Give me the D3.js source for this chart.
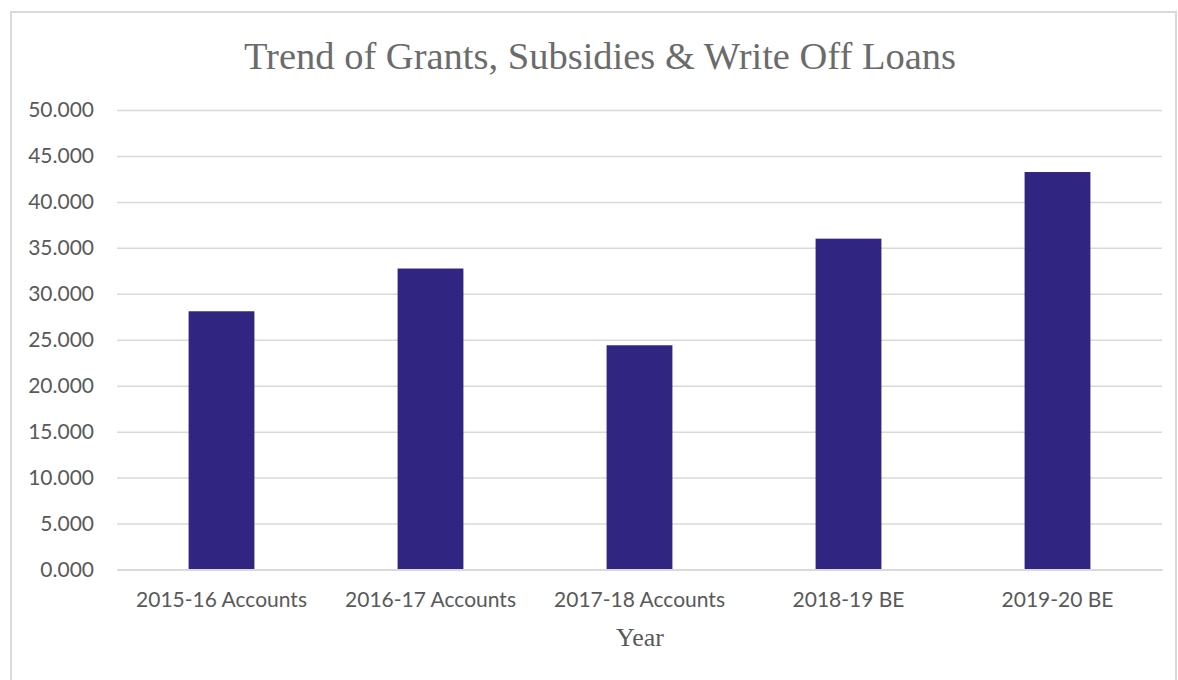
<!DOCTYPE html>
<html>
<head>
<meta charset="utf-8">
<script src="https://cdn.jsdelivr.net/npm/d3@7"></script>
<style>
 body { margin: 0; background: #fff; }
 svg { display: block; }
</style>
</head>
<body>
<svg width="1178" height="680"></svg>
<script>
// Chart values.

var years = ['2015-16 Accounts', '2016-17 Accounts', '2017-18 Accounts', '2018-19 BE', '2019-20 BE'];
var amounts = [28.1, 32.75, 24.4, 36.0, 43.25];
var yTicks = [0, 5, 10, 15, 20, 25, 30, 35, 40, 45, 50];

var svg = d3.select('svg');
var margin = {top: 110, right: 16, bottom: 110, left: 117};
var width = 1162 - margin.left;
var height = 569.5 - margin.top;
var textColor = '#595959';
var gridColor = '#d9d9d9';
var labelFont = 'Lato, "Open Sans", sans-serif';

// Outer chart border.

svg.append('rect')
 .attr('x', 11).attr('y', 12)
 .attr('width', 1165).attr('height', 700)
 .attr('fill', '#fff')
 .attr('stroke', gridColor)
 .attr('stroke-width', 2);

var graphic = svg.append('g').attr('transform', 'translate(' + margin.left + ',' + margin.top + ')');

var x = d3.scaleBand().domain(years).range([0, width]).paddingInner(0.685).paddingOuter(0.3425);
var y = d3.scaleLinear().domain([0, 50]).range([height, 0]);

// Gridlines and value axis.

graphic.append('g')
 .call(d3.axisLeft(y).tickValues(yTicks).tickFormat(d3.format('.3f')).tickSize(-width).tickPadding(23))
 .call(function(g) { g.select('.domain').remove(); })
 .call(function(g) {
  g.selectAll('line').attr('stroke', gridColor).attr('stroke-width', 1.5);
  g.selectAll('text').attr('fill', textColor).style('font-family', labelFont).style('font-size', '21px');
 });

// Bars.

graphic.append('g')
 .selectAll('rect')
 .data(amounts)
 .enter().append('rect')
 .attr('x', function(d, i) { return x(years[i]); })
 .attr('y', function(d) { return y(d); })
 .attr('width', x.bandwidth())
 .attr('height', function(d) { return y(0) - y(d); })
 .attr('fill', '#302681');

// Category axis.

graphic.append('g')
 .attr('transform', 'translate(0,' + height + ')')
 .call(d3.axisBottom(x).tickSize(0).tickPadding(23))
 .call(function(g) {
  g.select('.domain').attr('stroke', gridColor).attr('stroke-width', 2);
  g.selectAll('text').attr('fill', textColor).style('font-family', labelFont).style('font-size', '21px');
 });

// Title and axis title.

svg.append('text')
 .attr('x', 600).attr('y', 69)
 .attr('text-anchor', 'middle')
 .attr('fill', '#6b6b6b')
 .style('font-family', '"Liberation Serif", serif')
 .style('font-size', '38.5px')
 .text('Trend of Grants, Subsidies & Write Off Loans');

svg.append('text')
 .attr('x', 640).attr('y', 646)
 .attr('text-anchor', 'middle')
 .attr('fill', textColor)
 .style('font-family', '"Liberation Serif", serif')
 .style('font-size', '26px')
 .text('Year');
</script>
</body>
</html>
